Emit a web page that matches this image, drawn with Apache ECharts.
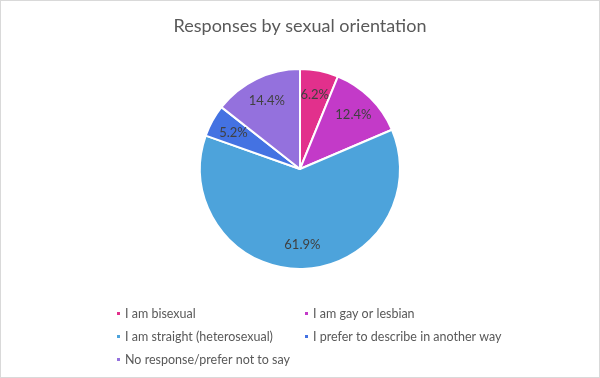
<!DOCTYPE html>
<html><head><meta charset="utf-8">
<script src="https://cdn.jsdelivr.net/npm/echarts@6/dist/echarts.min.js"></script>
<style>
html,body{margin:0;padding:0;background:#fff;}
#c{width:598px;height:376px;border:1px solid #d9d9d9;}
</style></head>
<body><div id="c"></div>
<script>
const title = 'Responses by sexual orientation';
const categories = ['I am bisexual','I am gay or lesbian','I am straight (heterosexual)','I prefer to describe in another way','No response/prefer not to say'];
const values = [6.2, 12.4, 61.9, 5.2, 14.4];
const colors = ['#E2308C','#C33AC8','#4DA3DB','#4472E2','#9471DD'];
const legendCol1 = [categories[0], categories[2], categories[4]];
const legendCol2 = [categories[1], categories[3]];

const font = 'Lato';
const data = categories.map((n,i)=>({name:n, value:values[i], itemStyle:{color:colors[i]}}));
const chart = echarts.init(document.getElementById('c'), null, {renderer:'canvas'});
const legendBase = {
  orient:'vertical', itemWidth:5, itemHeight:5, icon:'rect', itemGap:10,
  textStyle:{fontFamily:font, fontSize:12.5, color:'#595959', padding:[0,0,0,-1]}, top:301
};
chart.setOption({
  animation:false,
  title:{text:title, left:'center', top:11, textStyle:{fontFamily:font, fontSize:18, fontWeight:'normal', color:'#595959'}},
  legend:[
    Object.assign({}, legendBase, {left:109, data:legendCol1}),
    Object.assign({}, legendBase, {left:297, data:legendCol2})
  ],
  series:[
    {type:'pie', center:[299,168], radius:[0,100], startAngle:90, clockwise:true,
     itemStyle:{borderColor:'#fff', borderWidth:2},
     label:{show:false}, labelLine:{show:false}, data:data},
    {type:'pie', center:[299,168], radius:[46,100], startAngle:90, clockwise:true, silent:true,
     itemStyle:{color:'rgba(0,0,0,0)', borderWidth:0},
     label:{show:true, position:'inside', formatter:p=>p.value.toFixed(1)+'%', fontFamily:font, fontSize:13, color:'#404040'},
     labelLine:{show:false},
     data:categories.map((n,i)=>({name:n, value:values[i], itemStyle:{color:'rgba(0,0,0,0)'}}))}
  ]
});
</script></body></html>
